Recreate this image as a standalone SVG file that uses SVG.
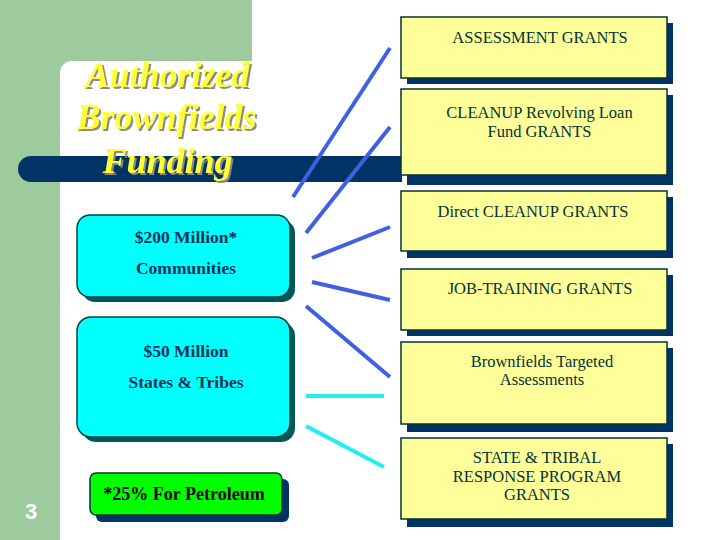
<svg xmlns="http://www.w3.org/2000/svg" width="720" height="540" viewBox="0 0 720 540">
<defs>
<style>
.yb{fill:#FFFF99;stroke:#003333;stroke-width:1.5}
.ys{fill:#003366}
.yt{font-family:'Liberation Serif','DejaVu Serif',serif;font-size:16.5px;fill:#003333;text-anchor:middle}
.cb{fill:#00FFFF;stroke:#004444;stroke-width:1.5}
.cs{fill:#005858}
.ct{font-family:'Liberation Serif','DejaVu Serif',serif;font-size:17.5px;font-weight:bold;fill:#003355;text-anchor:middle}
.title{font-family:'Liberation Serif','DejaVu Serif',serif;font-size:36px;font-weight:bold;font-style:italic;text-anchor:middle;fill:#FFFF33}
.blue{stroke:#3F60E3;stroke-width:4;stroke-linecap:butt;fill:none}
.cyan{stroke:#22EEF2;stroke-width:4;stroke-linecap:butt;fill:none}
</style>
<filter id="shadow" x="-10%" y="-20%" width="130%" height="150%">
<feOffset in="SourceAlpha" dx="2" dy="2" result="off"/>
<feFlood flood-color="#8A8A8A"/>
<feComposite in2="off" operator="in" result="sh"/>
<feMerge><feMergeNode in="sh"/><feMergeNode in="SourceGraphic"/></feMerge>
</filter>
</defs>
<rect x="0" y="0" width="720" height="540" fill="#FFFFFF"/>
<path d="M0,0 H252 V61 H72 A12,12 0 0 0 60,73 V540 H0 Z" fill="#9DCB9D"/>
<path d="M31,156 H402 V182 H31 A13,13 0 0 1 31,156 Z" fill="#003366"/>
<g id="title" filter="url(#shadow)">
<text class="title" x="167.5" y="87">Authorized</text>
<text class="title" x="166.5" y="129">Brownfields</text>
<text class="title" x="167.5" y="173">Funding</text>
</g>
<g id="connectors">
<line class="blue" x1="390" y1="48" x2="293" y2="197"/>
<line class="blue" x1="390" y1="127" x2="306" y2="233"/>
<line class="blue" x1="390" y1="227" x2="312" y2="258"/>
<line class="blue" x1="312" y1="282" x2="390" y2="300"/>
<line class="blue" x1="306" y1="306" x2="390" y2="377"/>
<line class="cyan" x1="306" y1="396" x2="384" y2="396"/>
<line class="cyan" x1="306" y1="426" x2="384" y2="467"/>
</g>
<g id="communities">
<rect class="cs" x="82" y="220" width="213" height="82" rx="13"/>
<rect class="cb" x="77" y="215" width="213" height="82" rx="13"/>
<text class="ct" x="186" y="243">$200 Million*</text>
<text class="ct" x="186" y="274">Communities</text>
</g>
<g id="states">
<rect class="cs" x="82" y="322" width="213" height="120" rx="14"/>
<rect class="cb" x="77" y="317" width="213" height="120" rx="14"/>
<text class="ct" x="186" y="357">$50 Million</text>
<text class="ct" x="186" y="388">States &amp; Tribes</text>
</g>
<g id="petroleum">
<rect x="96" y="479" width="193" height="43" rx="6" fill="#003366"/>
<rect x="90" y="473" width="192" height="42" rx="6" fill="#00FF00" stroke="#003333" stroke-width="1.5"/>
<text x="184" y="500" font-family="'Liberation Serif','DejaVu Serif',serif" font-size="18" font-weight="bold" fill="#000000" text-anchor="middle">*25% For Petroleum</text>
</g>
<g id="assessment">
<rect class="ys" x="407" y="23" width="266" height="61"/>
<rect class="yb" x="401" y="17" width="266" height="61"/>
<text class="yt" x="540" y="43">ASSESSMENT GRANTS</text>
</g>
<g id="rlf">
<rect class="ys" x="407" y="95" width="266" height="90"/>
<rect class="yb" x="401" y="89" width="266" height="86"/>
<text class="yt" x="539.5" y="118">CLEANUP Revolving Loan</text>
<text class="yt" x="539.5" y="137">Fund GRANTS</text>
</g>
<g id="direct">
<rect class="ys" x="407" y="197" width="266" height="61"/>
<rect class="yb" x="401" y="191" width="266" height="60"/>
<text class="yt" x="533" y="217">Direct CLEANUP GRANTS</text>
</g>
<g id="jobtraining">
<rect class="ys" x="407" y="275" width="266" height="61"/>
<rect class="yb" x="401" y="269" width="266" height="61"/>
<text class="yt" x="540" y="294">JOB-TRAINING GRANTS</text>
</g>
<g id="targeted">
<rect class="ys" x="407" y="348" width="266" height="84"/>
<rect class="yb" x="401" y="342" width="266" height="82"/>
<text class="yt" x="542" y="367">Brownfields Targeted</text>
<text class="yt" x="542" y="385">Assessments</text>
</g>
<g id="statetribal">
<rect class="ys" x="407" y="444" width="266" height="83"/>
<rect class="yb" x="401" y="438" width="266" height="81"/>
<text class="yt" x="537" y="463">STATE &amp; TRIBAL</text>
<text class="yt" x="537" y="482">RESPONSE PROGRAM</text>
<text class="yt" x="537" y="500">GRANTS</text>
</g>
<text x="31" y="519" font-family="'Liberation Sans',Arial,sans-serif" font-size="22" font-weight="bold" fill="#FFFFFF" text-anchor="middle">3</text>
</svg>
